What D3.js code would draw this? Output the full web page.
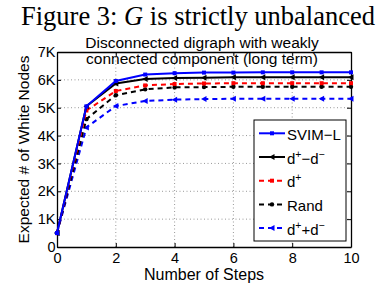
<!DOCTYPE html>
<html>
<head>
<meta charset="utf-8">
<script src="https://cdn.jsdelivr.net/npm/d3@7"></script>
<style>
  body { margin: 0; background: #fff; }
  text { font-family: "Liberation Sans", Arial, sans-serif; }
</style>
</head>
<body>
<div id="chart"></div>
<script>
const steps = [0, 1, 2, 3, 4, 5, 6, 7, 8, 9, 10]
const svimL  = [500, 5050, 5960, 6190, 6240, 6260, 6260, 6270, 6270, 6270, 6270]
const dPlusMinusDMinus = [500, 5050, 5870, 6030, 6070, 6080, 6090, 6090, 6090, 6090, 6090]
const dPlus  = [500, 4900, 5600, 5800, 5850, 5870, 5880, 5880, 5880, 5880, 5880]
const rand   = [500, 4590, 5450, 5660, 5730, 5740, 5750, 5750, 5750, 5750, 5750]
const dPlusPlusDMinus = [500, 4290, 5060, 5240, 5290, 5310, 5320, 5320, 5320, 5320, 5320]
const xTicks = [0, 2, 4, 6, 8, 10]
const yTicks = [0, 1000, 2000, 3000, 4000, 5000, 6000, 7000]

const series = [
  {name: 'SVIM-L', values: svimL, color: '#0000ff', dash: null, marker: 'square'},
  {name: 'd+-d-', values: dPlusMinusDMinus, color: '#000000', dash: null, marker: 'tri'},
  {name: 'd+', values: dPlus, color: '#ff0000', dash: '5,4', marker: 'square'},
  {name: 'Rand', values: rand, color: '#000000', dash: '5,4', marker: 'circle'},
  {name: 'd++d-', values: dPlusPlusDMinus, color: '#0000ff', dash: '5,4', marker: 'tri'}
]

let width = 389, height = 288
let m = {left: 57, right: 38, top: 52, bottom: 41}

let svg = d3.select('#chart').append('svg')
  .attr('width', width)
  .attr('height', height)

let x = d3.scaleLinear().domain([0, 10]).range([m.left, width - m.right])
let y = d3.scaleLinear().domain([0, 7000]).range([height - m.bottom, m.top])

// figure caption
svg.append('text')
  .attr('x', 21).attr('y', 25)
  .style('font-family', '"Liberation Serif", "Times New Roman", serif')
  .style('font-size', '26.5px')
  .html('Figure 3: <tspan font-style="italic">G</tspan> is strictly unbalanced')

// grid
let grid = svg.append('g')
grid.selectAll('.gx').data(xTicks.slice(1, -1)).enter().append('line')
  .attr('x1', d => x(d)).attr('x2', d => x(d))
  .attr('y1', y(0)).attr('y2', y(7000))
  .attr('stroke', '#999').attr('stroke-dasharray', '1,2.5')
grid.selectAll('.gy').data(yTicks.slice(1, -1)).enter().append('line')
  .attr('x1', x(0)).attr('x2', x(10))
  .attr('y1', d => y(d)).attr('y2', d => y(d))
  .attr('stroke', '#999').attr('stroke-dasharray', '1,2.5')

const fmtK = d => d === 0 ? '0' : (d / 1000) + 'K'

let xaxis = svg.append('g')
  .attr('transform', 'translate(0,' + y(0) + ')')
  .call(d3.axisBottom(x).tickValues(xTicks).tickSizeInner(-4).tickSizeOuter(0).tickPadding(6))
let xtop = svg.append('g')
  .attr('transform', 'translate(0,' + y(7000) + ')')
  .call(d3.axisTop(x).tickValues(xTicks).tickSizeInner(-4).tickSizeOuter(0).tickFormat(''))
let yaxis = svg.append('g')
  .attr('transform', 'translate(' + x(0) + ',0)')
  .call(d3.axisLeft(y).tickValues(yTicks).tickSizeInner(-4).tickSizeOuter(0).tickPadding(1.5).tickFormat(fmtK))
let yright = svg.append('g')
  .attr('transform', 'translate(' + x(10) + ',0)')
  .call(d3.axisRight(y).tickValues(yTicks).tickSizeInner(-4).tickSizeOuter(0).tickFormat(''))

svg.selectAll('.domain').attr('stroke', '#000').attr('stroke-width', 1.3)
svg.selectAll('.tick line').attr('stroke', '#000')
svg.selectAll('.tick text').style('font-size', '14.5px').attr('fill', '#000')
  .style('font-family', '"Liberation Sans", Arial, sans-serif')

// chart title
svg.append('text').attr('x', 202).attr('y', 48.3)
  .attr('text-anchor', 'middle').style('font-size', '15.5px')
  .text('Disconnected digraph with weakly')
svg.append('text').attr('x', 202).attr('y', 63.5)
  .attr('text-anchor', 'middle').style('font-size', '15.5px')
  .text('connected component (long term)')

// axis labels
svg.append('text')
  .attr('transform', 'translate(29,' + ((y(0) + y(7000)) / 2) + ') rotate(-90)')
  .attr('text-anchor', 'middle').style('font-size', '15.5px')
  .text('Expected # of White Nodes')
svg.append('text')
  .attr('x', (x(0) + x(10)) / 2).attr('y', 280)
  .attr('text-anchor', 'middle').style('font-size', '16px')
  .text('Number of Steps')

const line = d3.line()
  .x((d, i) => x(steps[i]))
  .y(d => y(d))

const drawMarker = (g, type, cx, cy, color) => {
  if (type === 'square') {
    g.append('rect').attr('x', cx - 2).attr('y', cy - 2).attr('width', 4).attr('height', 4).attr('fill', color)
  } else if (type === 'circle') {
    g.append('circle').attr('cx', cx).attr('cy', cy).attr('r', 2.2).attr('fill', color)
  } else {
    g.append('path').attr('d', `M${cx - 3},${cy} L${cx + 2.5},${cy - 3} L${cx + 2.5},${cy + 3} Z`).attr('fill', color)
  }
}

let lines = svg.append('g')
series.slice().reverse().forEach(s => {
  lines.append('path')
    .datum(s.values)
    .attr('d', line)
    .attr('fill', 'none')
    .attr('stroke', s.color)
    .attr('stroke-width', 2)
    .attr('stroke-dasharray', s.dash)
  let mg = lines.append('g')
  s.values.forEach((v, i) => drawMarker(mg, s.marker, x(steps[i]), y(v), s.color))
})

// legend
let lg = svg.append('g')
lg.append('rect').attr('x', 254).attr('y', 120).attr('width', 92).attr('height', 121)
  .attr('fill', '#fff').attr('stroke', '#000').attr('stroke-width', 1)
const labels = [
  'SVIM\u2212L',
  'd<tspan dy="-6" font-size="10.5px">+</tspan><tspan dy="6">\u2212d</tspan><tspan dy="-6" font-size="10.5px">\u2212</tspan>',
  'd<tspan dy="-6" font-size="10.5px">+</tspan>',
  'Rand',
  'd<tspan dy="-6" font-size="10.5px">+</tspan><tspan dy="6">+d</tspan><tspan dy="-6" font-size="10.5px">\u2212</tspan>'
]
series.forEach((s, i) => {
  let ly = 133.3 + i * 23.7
  lg.append('line').attr('x1', 259).attr('x2', 285).attr('y1', ly).attr('y2', ly)
    .attr('stroke', s.color).attr('stroke-width', 2).attr('stroke-dasharray', s.dash)
  drawMarker(lg, s.marker, 272, ly, s.color)
  lg.append('text').attr('x', 287).attr('y', ly + 6.5).style('font-size', '15px').html(labels[i])
})
</script>
</body>
</html>
